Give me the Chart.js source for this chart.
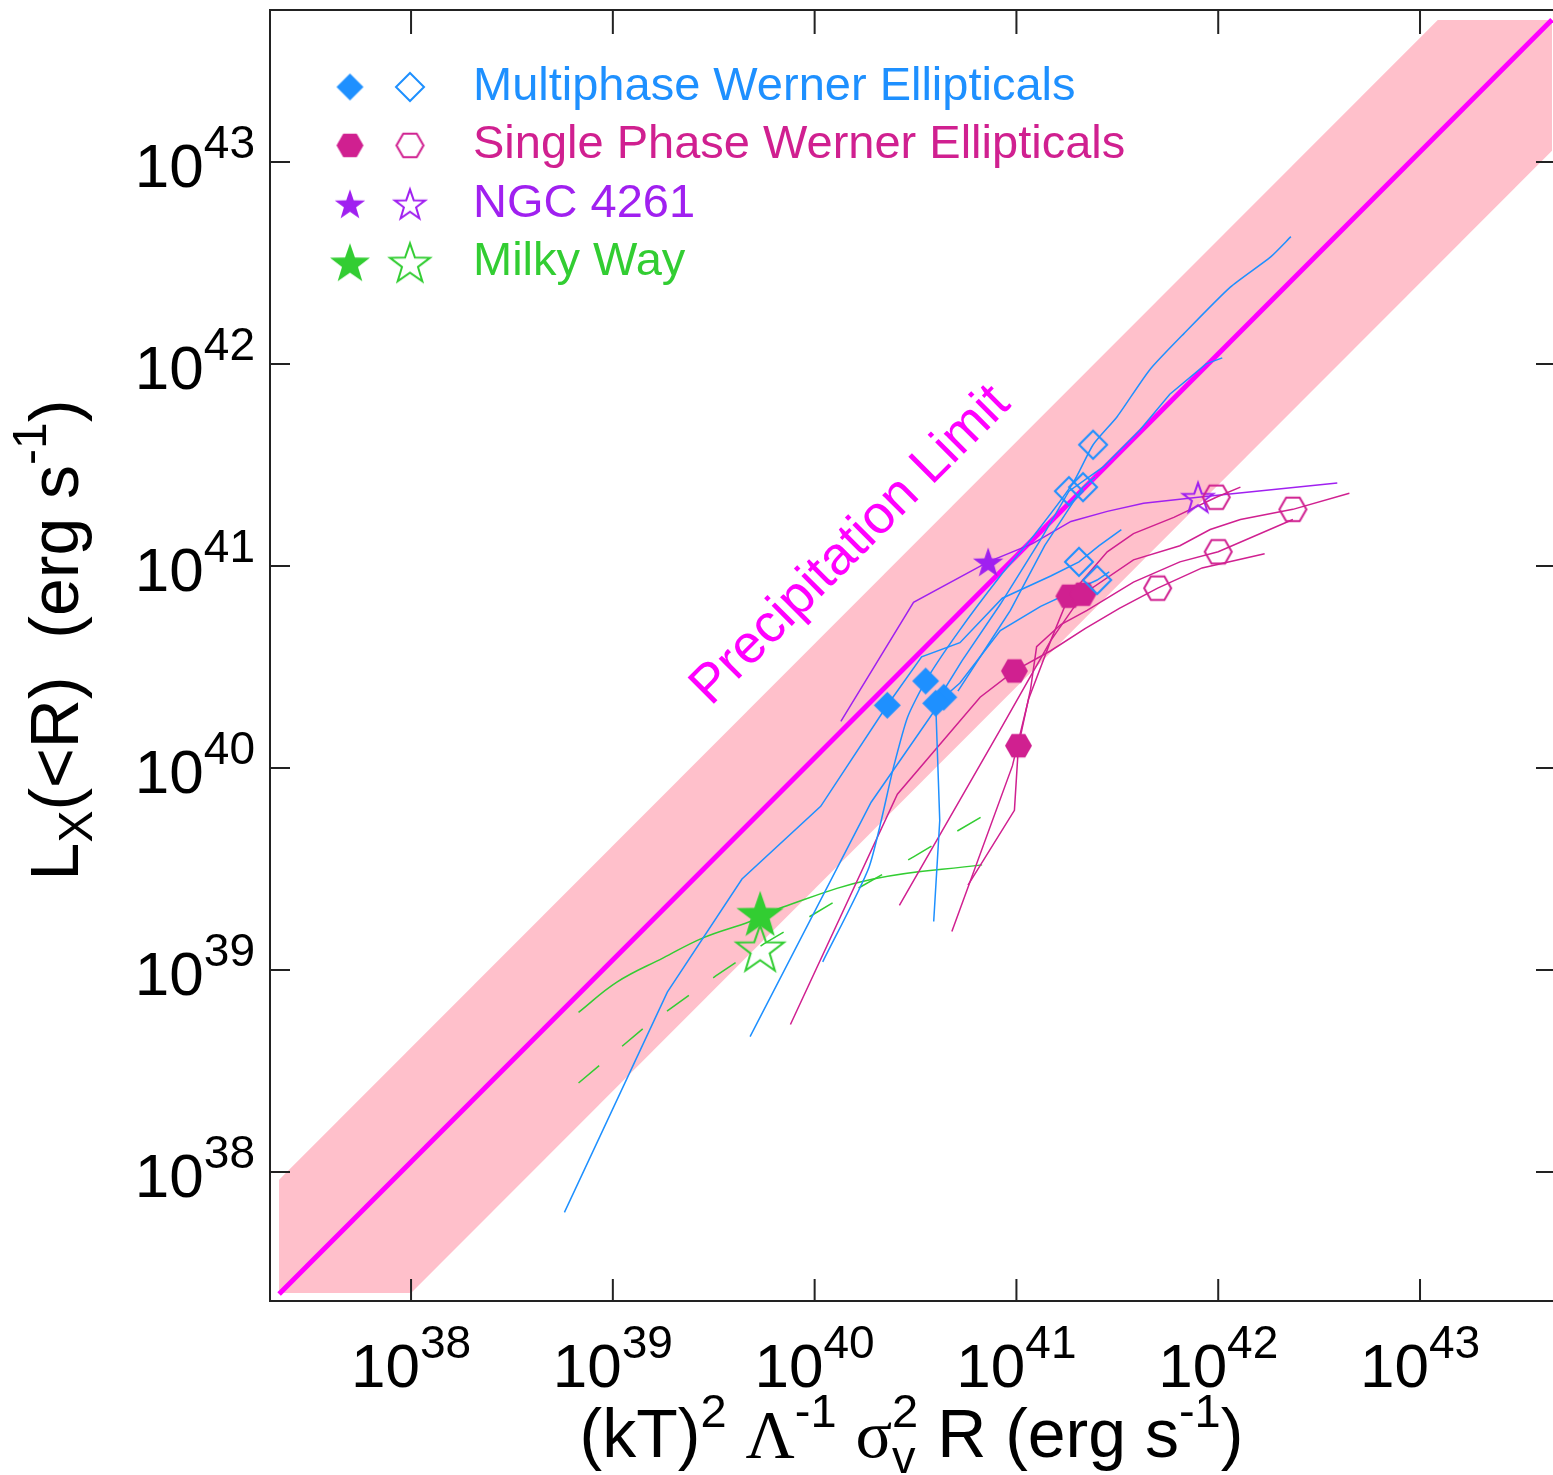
<!DOCTYPE html>
<html>
<head>
<meta charset="utf-8">
<title>Precipitation limit</title>
<script src="https://cdn.jsdelivr.net/npm/chart.js@4.4.0/dist/chart.umd.min.js"></script>
<style>
  html, body { margin: 0; padding: 0; background: #fff; }
  canvas { display: block; }
</style>
</head>
<body>
<canvas id="precipChart" width="1553" height="1475"></canvas>
<script>
// every value below is log10 of a luminosity in erg/s: [x, y]
var tickExps = [38, 39, 40, 41, 42, 43];
var xRange = [37.301, 43.659];
var yRange = [37.361, 43.752];

// precipitation limit and its band
var limitLine = [[37.346, 37.396], [43.654, 43.704]];
var bandTop = [[37.346, 37.961], [43.088, 43.703], [43.654, 43.703]];
var bandBottom = [[37.346, 37.401], [38.0, 37.401], [43.654, 43.055]];

// multiphase ellipticals
var multiA = [[38.76, 37.80], [39.27, 38.89], [39.64, 39.45], [40.03, 39.81], [40.36, 40.31], [40.53, 40.55], [40.72, 40.62], [40.93, 40.84], [41.17, 40.95], [41.31, 41.02], [41.41, 41.10], [41.52, 41.18]];
var multiB = [[40.04, 39.04], [40.27, 39.51], [40.39, 40.00], [40.46, 40.25], [40.55, 40.43], [40.71, 40.67], [40.92, 40.95], [41.07, 41.13], [41.28, 41.41], [41.38, 41.60], [41.50, 41.74], [41.66, 41.97], [41.83, 42.15], [42.06, 42.38], [42.26, 42.53], [42.36, 42.63]];
var multiC = [[39.68, 38.67], [40.28, 39.83], [40.64, 40.35], [40.72, 40.42], [40.92, 40.68], [41.12, 40.80], [41.40, 40.93], [41.46, 40.97]];
var multiE = [[40.59, 39.24], [40.62, 39.74], [40.60, 40.32], [40.73, 40.53], [40.92, 40.81], [41.12, 41.13], [41.26, 41.37], [41.43, 41.49], [41.61, 41.67], [41.76, 41.85], [41.94, 42.00], [42.02, 42.03]];
var multiF = [[40.71, 40.38], [40.84, 40.58], [40.97, 40.78], [41.14, 41.10], [41.33, 41.39], [41.39, 41.44]];
var multiInner = [[40.36, 40.31], [40.55, 40.43], [40.64, 40.35], [40.60, 40.32]];
var multiOuter = [[41.31, 41.02], [41.38, 41.60], [41.40, 40.93], [41.26, 41.37], [41.33, 41.39]];

// single phase ellipticals
var singleA = [[39.88, 38.73], [40.41, 39.87], [40.82, 40.35], [40.99, 40.48], [41.17, 40.58], [41.34, 40.69], [41.51, 40.79], [41.70, 40.89], [41.92, 40.99], [42.23, 41.06]];
var singleB = [[40.42, 39.32], [40.92, 40.19], [41.17, 40.63], [41.26, 40.85], [41.45, 41.07], [41.58, 41.16], [41.78, 41.24], [41.99, 41.34], [42.11, 41.39]];
var singleC = [[40.76, 39.42], [40.99, 39.79], [41.01, 40.11], [41.07, 40.39], [41.10, 40.60], [41.22, 40.71], [41.35, 40.78], [41.58, 40.92], [41.81, 41.02], [42.00, 41.07], [42.37, 41.23]];
var singleD = [[40.68, 39.19], [40.98, 40.01], [41.06, 40.34], [41.17, 40.63], [41.33, 40.86], [41.58, 41.03], [41.81, 41.10], [41.96, 41.18], [42.11, 41.23], [42.37, 41.28], [42.65, 41.36]];
var singleInner = [[40.99, 40.48], [41.01, 40.11], [41.26, 40.85], [41.33, 40.86]];
var singleOuter = [[41.70, 40.89], [41.99, 41.34], [42.00, 41.07], [42.37, 41.28]];

// NGC 4261
var ngcLine = [[40.13, 40.23], [40.49, 40.82], [40.86, 41.02], [41.08, 41.11], [41.27, 41.22], [41.45, 41.27], [41.63, 41.31], [41.90, 41.34], [42.59, 41.41]];
var ngcInner = [[40.86, 41.02]];
var ngcOuter = [[41.90, 41.34]];

// Milky Way
var mwSolid = [[38.83, 38.79], [39.02, 38.94], [39.25, 39.06], [39.45, 39.16], [39.68, 39.24], [39.84, 39.31], [40.29, 39.45], [40.83, 39.52]];
var mwDashed = [[38.83, 38.44], [39.15, 38.71], [39.51, 38.97], [39.75, 39.13], [40.12, 39.35], [40.49, 39.56], [40.83, 39.76]];
var mwInner = [[39.73, 39.28]];
var mwOuter = [[39.73, 39.11]];

var legendNames = ["Multiphase Werner Ellipticals", "Single Phase Werner Ellipticals", "NGC 4261", "Milky Way"];

var SANS = '"Liberation Sans", Arial, Helvetica, sans-serif';
var SERIF = '"Liberation Serif", "Times New Roman", serif';
var BLUE = "#1E90FF", VIOLET = "#D02090", PURPLE = "#A020F0", GREEN = "#32CD32";
var LIMIT = "#FF00FF", BAND = "#FFC0CB";

function pts(arr) {
  return arr.map(function (p) { return { x: Math.pow(10, p[0]), y: Math.pow(10, p[1]) }; });
}

// small canvases used as point styles
function marker(shape, r, color, filled) {
  var size = Math.ceil(2 * r + 6);
  var c = document.createElement("canvas");
  c.width = size;
  c.height = size;
  var g = c.getContext("2d");
  var cx = size / 2, cy = size / 2, i, a, rr;
  g.beginPath();
  if (shape == "diamond") {
    g.moveTo(cx, cy - r);
    g.lineTo(cx + r, cy);
    g.lineTo(cx, cy + r);
    g.lineTo(cx - r, cy);
  } else if (shape == "hex") {
    for (i = 0; i < 6; i++) {
      a = i * Math.PI / 3;
      g.lineTo(cx + r * Math.cos(a), cy + r * Math.sin(a));
    }
  } else {
    for (i = 0; i < 10; i++) {
      rr = i % 2 ? r * 0.4 : r;
      a = -Math.PI / 2 + i * Math.PI / 5;
      g.lineTo(cx + rr * Math.cos(a), cy + rr * Math.sin(a) + r * 0.1);
    }
  }
  g.closePath();
  if (filled) {
    g.fillStyle = color;
    g.fill();
  } else {
    g.strokeStyle = color;
    g.lineWidth = 2;
    g.stroke();
  }
  return c;
}

var mk = {
  diamondFill: marker("diamond", 13.5, BLUE, true),
  diamondOpen: marker("diamond", 14, BLUE, false),
  hexFill: marker("hex", 13.5, VIOLET, true),
  hexOpen: marker("hex", 13.5, VIOLET, false),
  ngcFill: marker("star", 16, PURPLE, true),
  ngcOpen: marker("star", 16, PURPLE, false),
  mwFill: marker("star", 25, GREEN, true),
  mwOpen: marker("star", 25, GREEN, false),
  mwFillKey: marker("star", 21, GREEN, true),
  mwOpenKey: marker("star", 21, GREEN, false)
};

function curve(arr, color, extra) {
  return Object.assign({
    data: pts(arr),
    showLine: true,
    borderColor: color,
    backgroundColor: color,
    borderWidth: 1.5,
    pointRadius: 0,
    fill: false,
    order: 5
  }, extra || {});
}

function dots(arr, img) {
  return {
    data: pts(arr),
    showLine: false,
    pointStyle: img,
    pointRadius: 10,
    order: 1
  };
}

// text with super/subscripts: runs of {t, size, dy, family, adv}
function runsWidth(ctx, runs) {
  var w = 0;
  runs.forEach(function (r) {
    ctx.font = r.size + "px " + (r.family || SANS);
    if (r.adv !== false) w += ctx.measureText(r.t).width;
  });
  return w;
}

function drawRuns(ctx, runs, x, y) {
  runs.forEach(function (r) {
    ctx.font = r.size + "px " + (r.family || SANS);
    ctx.fillText(r.t, x, y + (r.dy || 0));
    if (r.adv !== false) x += ctx.measureText(r.t).width;
  });
}

var decor = {
  id: "decor",
  afterDraw: function (chart) {
    var ctx = chart.ctx;
    var a = chart.chartArea;
    var xs = chart.scales.x, ys = chart.scales.y;
    ctx.save();

    // precipitation label along the limit
    var lx = xs.getPixelForValue(Math.pow(10, 40.18));
    var ly = ys.getPixelForValue(Math.pow(10, 41.10));
    ctx.save();
    ctx.translate(lx, ly);
    ctx.rotate(-Math.PI / 4);
    ctx.fillStyle = LIMIT;
    ctx.font = "54px " + SANS;
    ctx.textAlign = "center";
    ctx.textBaseline = "middle";
    ctx.fillText("Precipitation Limit", 0, 0);
    ctx.restore();

    // frame and ticks
    ctx.strokeStyle = "#222";
    ctx.lineWidth = 2;
    ctx.beginPath();
    ctx.moveTo(a.right + 2, a.top);
    ctx.lineTo(a.left, a.top);
    ctx.lineTo(a.left, a.bottom);
    ctx.lineTo(a.right + 2, a.bottom);
    tickExps.forEach(function (e) {
      var px = xs.getPixelForValue(Math.pow(10, e));
      var py = ys.getPixelForValue(Math.pow(10, e));
      ctx.moveTo(px, a.bottom);
      ctx.lineTo(px, a.bottom - 22);
      ctx.moveTo(px, a.top);
      ctx.lineTo(px, a.top + 24);
      ctx.moveTo(a.left, py);
      ctx.lineTo(a.left + 20, py);
      ctx.moveTo(a.right, py);
      ctx.lineTo(a.right - 17, py);
    });
    ctx.stroke();

    // tick labels
    ctx.fillStyle = "#000";
    ctx.textAlign = "left";
    ctx.textBaseline = "alphabetic";
    tickExps.forEach(function (e) {
      var runs = [{ t: "10", size: 62 }, { t: String(e), size: 46, dy: -29 }];
      var w = runsWidth(ctx, runs);
      var px = xs.getPixelForValue(Math.pow(10, e));
      var py = ys.getPixelForValue(Math.pow(10, e));
      drawRuns(ctx, runs, px - w / 2, a.bottom + 86);
      drawRuns(ctx, runs, a.left - 15 - w, py + 25);
    });

    // axis titles
    var xTitle = [
      { t: "(kT)", size: 68 }, { t: "2", size: 47, dy: -30 }, { t: " ", size: 68 },
      { t: "\u039B", size: 68, family: SERIF }, { t: "-1", size: 47, dy: -30 }, { t: " ", size: 68 },
      { t: "\u03C3", size: 68, family: SERIF }, { t: "v", size: 47, dy: 16, adv: false },
      { t: "2", size: 47, dy: -30 }, { t: " R (erg s", size: 68 }, { t: "-1", size: 47, dy: -30 },
      { t: ")", size: 68 }
    ];
    var xw = runsWidth(ctx, xTitle);
    drawRuns(ctx, xTitle, (a.left + a.right) / 2 - xw / 2, 1457);

    var yTitle = [
      { t: "L", size: 68 }, { t: "X", size: 48, dy: 14 }, { t: "(<R)  (erg s", size: 68 },
      { t: "-1", size: 48, dy: -32 }, { t: ")", size: 68 }
    ];
    var yw = runsWidth(ctx, yTitle);
    ctx.save();
    ctx.translate(78, 640);
    ctx.rotate(-Math.PI / 2);
    drawRuns(ctx, yTitle, -yw / 2, 0);
    ctx.restore();

    // key
    var keys = [
      [mk.diamondFill, mk.diamondOpen, BLUE],
      [mk.hexFill, mk.hexOpen, VIOLET],
      [mk.ngcFill, mk.ngcOpen, PURPLE],
      [mk.mwFillKey, mk.mwOpenKey, GREEN]
    ];
    ctx.font = "47px " + SANS;
    keys.forEach(function (k, i) {
      var cy = 87 + i * 58.4;
      ctx.drawImage(k[0], 350 - k[0].width / 2, cy - k[0].height / 2);
      ctx.drawImage(k[1], 410 - k[1].width / 2, cy - k[1].height / 2);
      ctx.fillStyle = k[2];
      ctx.fillText(legendNames[i], 473, cy + 13);
    });

    ctx.restore();
  }
};

new Chart(document.getElementById("precipChart"), {
  type: "scatter",
  data: {
    datasets: [
      dots(multiInner, mk.diamondFill),
      dots(multiOuter, mk.diamondOpen),
      dots(singleInner, mk.hexFill),
      dots(singleOuter, mk.hexOpen),
      dots(ngcInner, mk.ngcFill),
      dots(ngcOuter, mk.ngcOpen),
      dots(mwInner, mk.mwFill),
      dots(mwOuter, mk.mwOpen),
      curve(multiA, BLUE),
      curve(multiB, BLUE, { tension: 0.2 }),
      curve(multiC, BLUE),
      curve(multiE, BLUE),
      curve(multiF, BLUE),
      curve(singleA, VIOLET),
      curve(singleB, VIOLET),
      curve(singleC, VIOLET),
      curve(singleD, VIOLET),
      curve(ngcLine, PURPLE),
      curve(mwSolid, GREEN, { tension: 0.4 }),
      curve(mwDashed, GREEN, { borderDash: [27, 30] }),
      curve(limitLine, LIMIT, { borderWidth: 5, order: 15 }),
      {
        data: pts(bandTop),
        showLine: true,
        borderWidth: 0,
        borderColor: "rgba(0,0,0,0)",
        backgroundColor: BAND,
        pointRadius: 0,
        fill: "+1",
        order: 20
      },
      {
        data: pts(bandBottom),
        showLine: true,
        borderWidth: 0,
        borderColor: "rgba(0,0,0,0)",
        pointRadius: 0,
        fill: false,
        order: 20
      }
    ]
  },
  options: {
    responsive: false,
    animation: false,
    devicePixelRatio: 1,
    layout: { autoPadding: false, padding: { left: 270, top: 10, right: 0, bottom: 174 } },
    plugins: {
      legend: { display: false },
      tooltip: { enabled: false }
    },
    scales: {
      x: { type: "logarithmic", display: false, min: Math.pow(10, xRange[0]), max: Math.pow(10, xRange[1]) },
      y: { type: "logarithmic", display: false, min: Math.pow(10, yRange[0]), max: Math.pow(10, yRange[1]) }
    }
  },
  plugins: [decor]
});
</script>
</body>
</html>
